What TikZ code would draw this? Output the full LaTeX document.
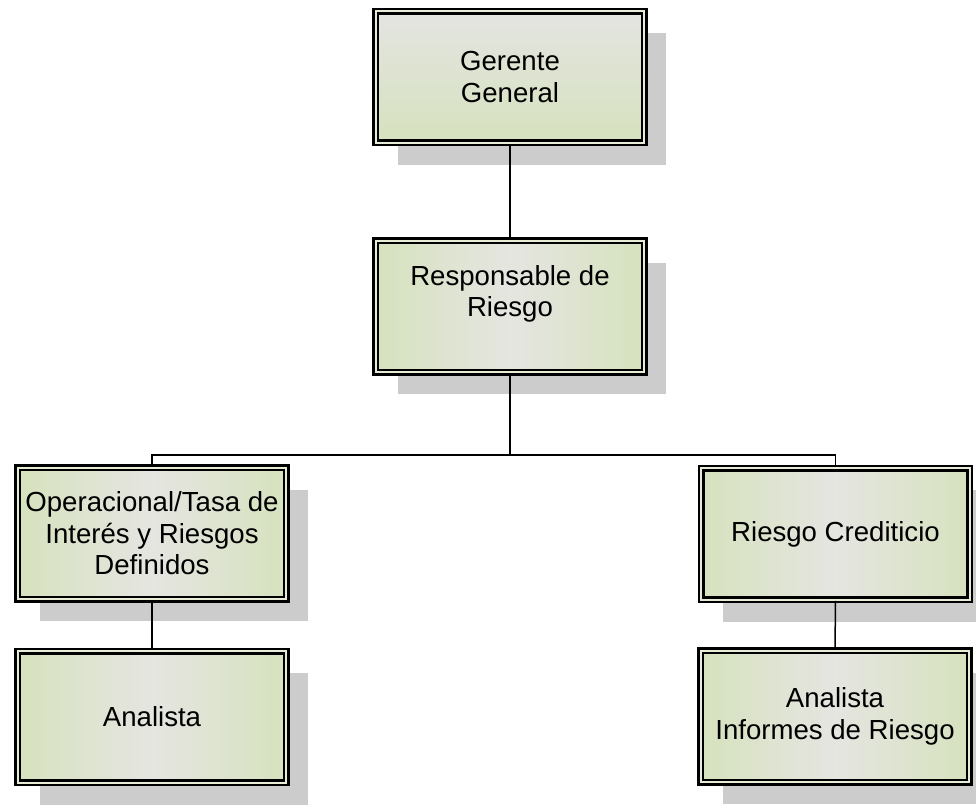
\documentclass[tikz,border=0pt]{standalone}
\usepackage{fontspec}
\setmainfont{Liberation Sans}
\usetikzlibrary{shadows}
\definecolor{edgegreen}{RGB}{214,226,190}
\definecolor{midgray}{RGB}{229,229,225}
\definecolor{topgray}{RGB}{228,228,225}
\definecolor{gapcol}{RGB}{230,236,214}
\definecolor{shadowcol}{RGB}{204,204,204}
\tikzset{
  orgbox/.style={draw=black, line width=2.1pt, double=gapcol, double distance=2.4pt,
    minimum width=268.5pt, minimum height=131.5pt, inner sep=0pt, align=center,
    font=\fontsize{27.6}{31.5}\selectfont,
    drop shadow={shadow xshift=22pt, shadow yshift=-22pt, fill=shadowcol, opacity=1, draw=none}},
  hshade/.style={orgbox, left color=edgegreen, right color=edgegreen, middle color=midgray},
  vshade/.style={orgbox, top color=topgray, bottom color=edgegreen},
  conn/.style={draw=black, line width=1.5pt}
}
\begin{document}
\begin{tikzpicture}[x=1pt, y=-1pt]
\path[use as bounding box] (0,0) rectangle (976,804);
\node[vshade] (gg) at (510,77) {Gerente\\General};
\node[hshade] (rr) at (510,306.5) {Responsable de\\Riesgo\\\mbox{}};
\node[hshade] (op) at (152,533.5) {Operacional/Tasa de\\Interés y Riesgos\\Definidos};
\node[hshade] (rc) at (835.5,534) {Riesgo Crediticio};
\node[hshade] (an) at (152,717) {Analista};
\node[hshade] (ai) at (835,716.5) {Analista\\Informes de Riesgo};
\coordinate (j) at (510,455);
\draw[conn] (gg.south) -- (rr.north);
\draw[conn] (rr.south) -- (j);
\draw[conn] (op.north) |- (j) -| (rc.north);
\draw[conn] (op.south) -- (an.north);
\draw[conn] (rc.south) -- (ai.north);
\end{tikzpicture}
\end{document}
